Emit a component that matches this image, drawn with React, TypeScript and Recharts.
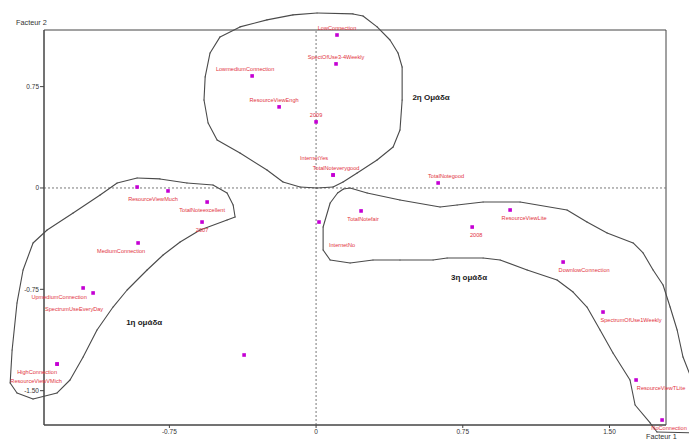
import React from "react";
import { ScatterChart, Scatter, XAxis, YAxis, ReferenceLine, ReferenceArea, ReferenceDot } from "recharts";

interface Pt {
  name: string;
  x: number;
  y: number;
}

// factor map bounds (Facteur 1 / Facteur 2)
const X_DOMAIN: [number, number] = [-1.391, 1.789];
const Y_DOMAIN: [number, number] = [-1.754, 1.169];
const xTicks = [-0.75, 0, 0.75, 1.5];
const yTicks = [-1.5, -0.75, 0, 0.75];

const group1: Pt[] = [
  { name: "", x: -0.915, y: 0.007 },
  { name: "ResourceViewMuch", x: -0.757, y: -0.022 },
  { name: "TotalNoteexcellent", x: -0.557, y: -0.104 },
  { name: "2007", x: -0.583, y: -0.252 },
  { name: "MediumConnection", x: -0.91, y: -0.407 },
  { name: "UpmediumConnection", x: -1.191, y: -0.74 },
  { name: "SpectrumUseEveryDay", x: -1.14, y: -0.777 },
  { name: "HighConnection", x: -1.324, y: -1.303 },
  { name: "ResourceViewVMich", x: -1.324, y: -1.303 },
  { name: "", x: -0.368, y: -1.236 },
];

const group2: Pt[] = [
  { name: "LowConnection", x: 0.107, y: 1.132 },
  { name: "SpectOfUse3-4Weekly", x: 0.102, y: 0.918 },
  { name: "LowmediumConnection", x: -0.327, y: 0.829 },
  { name: "ResourceViewEngh", x: -0.189, y: 0.6 },
  { name: "2009", x: 0, y: 0.489 },
  { name: "InternetYes", x: 0.087, y: 0.096 },
  { name: "TotalNoteverygood", x: 0.087, y: 0.096 },
];

const group3: Pt[] = [
  { name: "TotalNotegood", x: 0.624, y: 0.037 },
  { name: "TotalNotefair", x: 0.23, y: -0.17 },
  { name: "InternetNo", x: 0.015, y: -0.252 },
  { name: "2008", x: 0.798, y: -0.289 },
  { name: "ResourceViewLite", x: 0.992, y: -0.163 },
  { name: "DownlowConnection", x: 1.263, y: -0.548 },
  { name: "SpectrumOfUse1Weekly", x: 1.467, y: -0.918 },
  { name: "ResourceViewTLite", x: 1.636, y: -1.421 },
  { name: "NoConnection", x: 1.769, y: -1.717 },
];

// hand drawn outlines around the groups
const hull1: [number, number][] = [
  [-0.915, 0.074], [-0.798, 0.067], [-0.66, 0.037], [-0.527, 0.022], [-0.455, -0.037],
  [-0.424, -0.126], [-0.414, -0.215], [-0.455, -0.237], [-0.593, -0.311], [-0.695, -0.4],
  [-0.782, -0.496], [-0.864, -0.607], [-0.966, -0.755], [-1.038, -0.881], [-1.12, -1.051],
  [-1.191, -1.251], [-1.258, -1.421], [-1.324, -1.517], [-1.447, -1.562], [-1.529, -1.517],
  [-1.564, -1.443], [-1.554, -1.199], [-1.529, -0.851], [-1.498, -0.607], [-1.447, -0.407],
  [-1.375, -0.311], [-1.242, -0.185], [-1.104, -0.052], [-1.017, 0.037],
];

const hull2: [number, number][] = [
  [0.005, 1.295], [0.189, 1.288], [0.24, 1.273], [0.312, 1.192], [0.378, 1.095],
  [0.419, 0.999], [0.44, 0.895], [0.44, 0.651], [0.429, 0.429], [0.394, 0.303],
  [0.312, 0.207], [0.21, 0.111], [0.138, 0.044], [0.087, 0.007], [0.005, 0],
  [-0.082, 0.007], [-0.169, 0.044], [-0.251, 0.133], [-0.389, 0.259], [-0.506, 0.355],
  [-0.552, 0.481], [-0.573, 0.651], [-0.567, 0.822], [-0.542, 0.999], [-0.491, 1.118],
  [-0.389, 1.192], [-0.251, 1.244], [-0.118, 1.281],
];

const hull3: [number, number][] = [
  [0.174, 0], [0.261, -0.037], [0.429, -0.089], [0.634, -0.141],
  [0.721, -0.126], [0.854, -0.104], [1.043, -0.104], [1.283, -0.163], [1.385, -0.252],
  [1.488, -0.333], [1.621, -0.407], [1.672, -0.481], [1.723, -0.607], [1.774, -0.718],
  [1.81, -0.881], [1.846, -1.051], [1.876, -1.251], [1.912, -1.384], [1.937, -1.813],
  [1.743, -1.806], [1.708, -1.739], [1.631, -1.606], [1.605, -1.421], [1.518, -1.221],
  [1.452, -1.051], [1.385, -0.881], [1.314, -0.77], [1.232, -0.681], [1.079, -0.607],
  [0.941, -0.533], [0.854, -0.518], [0.67, -0.518], [0.598, -0.533], [0.429, -0.533],
  [0.291, -0.533], [0.174, -0.555], [0.072, -0.533], [0.036, -0.459], [0.036, -0.289],
  [0.072, -0.111], [0.11, -0.037], [0.14, -0.008],
];

const groupNames = [
  { name: "1η ομάδα", x: -0.879, y: -0.999 },
  { name: "2η Ομάδα", x: 0.588, y: 0.666 },
  { name: "3η ομάδα", x: 0.782, y: -0.666 },
];

const FONT = "'Liberation Sans', Arial, sans-serif";
const POINT_COLOR = "#c400d4";
const LABEL_COLOR = "#e2323e";
const LINE_COLOR = "#4a4a4a";

// small label nudges so overlapping labels sit like in the original plot
const labelNudge: Record<string, [number, number]> = {
  ResourceViewMuch: [-15, 0],
  TotalNoteexcellent: [-5, 0],
  MediumConnection: [-17, 0],
  UpmediumConnection: [-24, 1],
  SpectrumUseEveryDay: [-19, 8],
  HighConnection: [-20, 0],
  ResourceViewVMich: [-21, 9],
  LowmediumConnection: [-7, 0],
  ResourceViewEngh: [-5, 0],
  InternetYes: [-19, -10],
  TotalNoteverygood: [3, 0],
  TotalNotegood: [8, 0],
  TotalNotefair: [2, 0],
  InternetNo: [23, 15],
  "2008": [4, 0],
  ResourceViewLite: [14, 0],
  DownlowConnection: [21, 0],
  SpectrumOfUse1Weekly: [28, 0],
  ResourceViewTLite: [25, 0],
  NoConnection: [7, 0],
};

const fmt = (v: number) => (v === 0 ? "0" : v.toFixed(2));

const PointShape = (props: any) => {
  const { cx, cy, payload } = props;
  if (cx == null || cy == null) return <g />;
  const [dx, dy] = labelNudge[payload.name] || [0, 0];
  const ly = payload.y > 0 ? cy - 7 : cy + 8;
  return (
    <g>
      <rect x={cx - 1.8} y={cy - 1.8} width={3.6} height={3.6} fill={POINT_COLOR} />
      {payload.name && (
        <text
          x={cx + dx}
          y={ly + dy}
          textAnchor="middle"
          dominantBaseline="central"
          fontSize={5.6}
          fontFamily={FONT}
          fill={LABEL_COLOR}
        >
          {payload.name}
        </text>
      )}
    </g>
  );
};

const hullSegments = (hull: [number, number][], key: string) =>
  hull.map((p, i) => {
    const q = hull[(i + 1) % hull.length];
    return (
      <ReferenceLine
        key={`${key}-${i}`}
        segment={[{ x: p[0], y: p[1] }, { x: q[0], y: q[1] }]}
        ifOverflow="visible"
        stroke={LINE_COLOR}
        strokeWidth={1.1}
        strokeLinecap="round"
      />
    );
  });

export default function App() {
  return (
    <div style={{ position: "absolute", left: 0, top: 0, width: 689, height: 443, background: "#fff", fontFamily: FONT }}>
      <ScatterChart width={689} height={443} margin={{ top: 30, right: 23, bottom: 4, left: 14 }}>
        <XAxis
          type="number"
          dataKey="x"
          domain={X_DOMAIN}
          ticks={xTicks}
          tickFormatter={fmt}
          height={14}
          tickSize={3}
          tickMargin={1}
          axisLine={{ stroke: "#444" }}
          tickLine={{ stroke: "#444" }}
          tick={{ fontSize: 6.5, fill: "#333", fontFamily: FONT }}
        />
        <YAxis
          type="number"
          dataKey="y"
          domain={Y_DOMAIN}
          ticks={yTicks}
          tickFormatter={fmt}
          width={30}
          tickSize={4}
          tickMargin={1}
          axisLine={{ stroke: "#444" }}
          tickLine={{ stroke: "#444" }}
          tick={{ fontSize: 6.5, fill: "#333", fontFamily: FONT }}
        />
        <ReferenceArea
          x1={X_DOMAIN[0]}
          x2={X_DOMAIN[1]}
          y1={Y_DOMAIN[0]}
          y2={Y_DOMAIN[1]}
          ifOverflow="visible"
          fill="none"
          fillOpacity={0}
          stroke="#444"
          strokeWidth={1}
        />
        <ReferenceLine x={0} stroke="#777" strokeDasharray="2 2" />
        <ReferenceLine y={0} stroke="#777" strokeDasharray="2 2" />
        {hullSegments(hull1, "h1")}
        {hullSegments(hull2, "h2")}
        {hullSegments(hull3, "h3")}
        {groupNames.map((g) => (
          <ReferenceDot
            key={g.name}
            x={g.x}
            y={g.y}
            r={0}
            ifOverflow="visible"
            shape={(p: any) => (
              <text
                x={p.cx}
                y={p.cy}
                textAnchor="middle"
                dominantBaseline="central"
                fontSize={8}
                fontWeight={600}
                fontFamily={FONT}
                fill="#1a1a1a"
              >
                {g.name}
              </text>
            )}
          />
        ))}
        <Scatter data={group1} shape={PointShape} isAnimationActive={false} />
        <Scatter data={group2} shape={PointShape} isAnimationActive={false} />
        <Scatter data={group3} shape={PointShape} isAnimationActive={false} />
      </ScatterChart>
      <div style={{ position: "absolute", left: 16, top: 18, fontSize: 7.3, color: "#333" }}>Facteur 2</div>
      <div style={{ position: "absolute", left: 646, top: 432, fontSize: 7.3, color: "#333" }}>Facteur 1</div>
    </div>
  );
}
